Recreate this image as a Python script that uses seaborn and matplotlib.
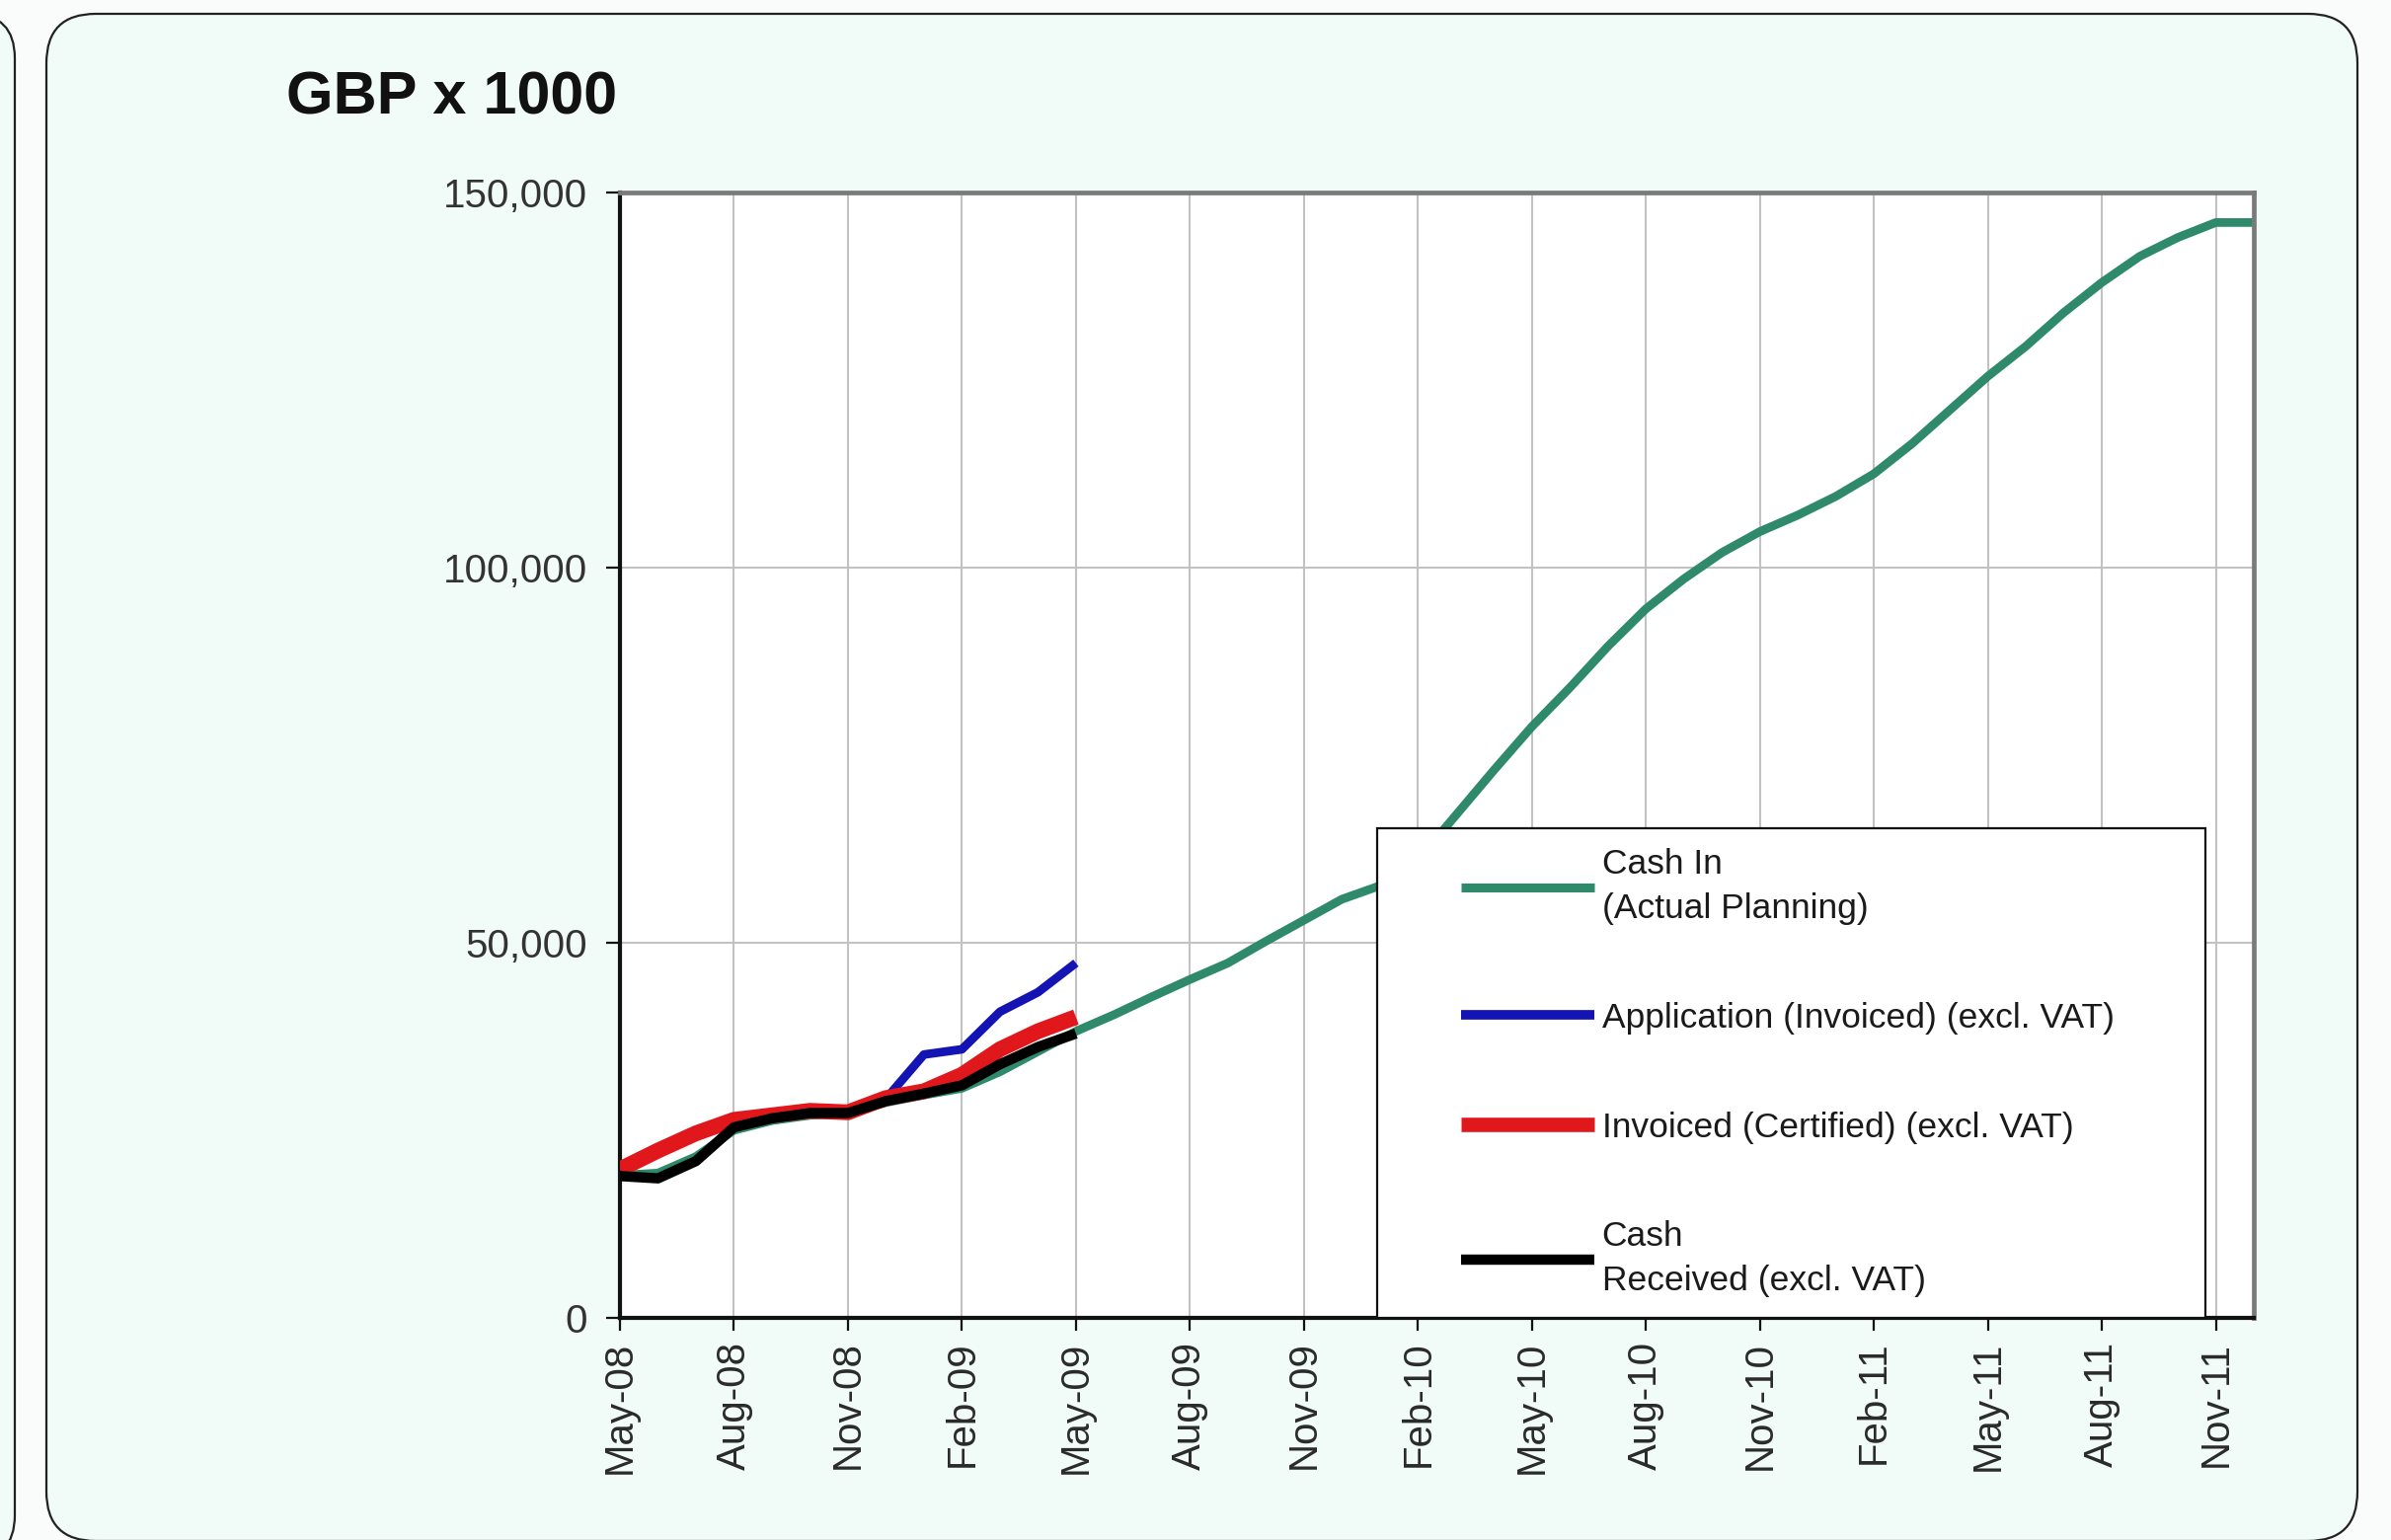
import numpy as np
import pandas as pd
import matplotlib
matplotlib.use("Agg")
import matplotlib.pyplot as plt
import seaborn as sns
from matplotlib.patches import FancyBboxPatch, Rectangle
from matplotlib.ticker import FuncFormatter

# ---------------- data (GBP x 1000) ----------------
months = ["May-08", "Jun-08", "Jul-08", "Aug-08", "Sep-08", "Oct-08", "Nov-08", "Dec-08",
          "Jan-09", "Feb-09", "Mar-09", "Apr-09", "May-09", "Jun-09", "Jul-09", "Aug-09",
          "Sep-09", "Oct-09", "Nov-09", "Dec-09", "Jan-10", "Feb-10", "Mar-10", "Apr-10",
          "May-10", "Jun-10", "Jul-10", "Aug-10", "Sep-10", "Oct-10", "Nov-10", "Dec-10",
          "Jan-11", "Feb-11", "Mar-11", "Apr-11", "May-11", "Jun-11", "Jul-11", "Aug-11",
          "Sep-11", "Oct-11", "Nov-11", "Dec-11"]

cash_in = [19000, 19300, 21500, 25000, 26300, 27000, 27300, 28700,
           29700, 30600, 32800, 35500, 38200, 40400, 42800, 45100,
           47300, 50200, 53000, 55800, 57600, 61000, 67000, 73000,
           78800, 84000, 89500, 94500, 98500, 102000, 104800, 107000,
           109500, 112500, 116500, 121000, 125500, 129500, 134000, 138000,
           141500, 144000, 146000, 146000]

application = [19800, 22500, 24700, 26400, 27000, 27600, 27400, 29200,
               35100, 35800, 40800, 43400, 47300]
invoiced = [19800, 22300, 24600, 26400, 27000, 27600, 27400, 29300,
            30200, 32400, 35800, 38200, 40100]
cash_received = [18900, 18600, 20900, 25400, 26600, 27300, 27300, 28900,
                 29900, 31000, 33800, 36100, 37900]

tick_labels = ["May-08", "Aug-08", "Nov-08", "Feb-09", "May-09", "Aug-09", "Nov-09",
               "Feb-10", "May-10", "Aug-10", "Nov-10", "Feb-11", "May-11", "Aug-11", "Nov-11"]
y_ticks = [0, 50000, 100000, 150000]

series_names = ["Cash In\n(Actual Planning)",
                "Application (Invoiced) (excl. VAT)",
                "Invoiced (Certified) (excl. VAT)",
                "Cash\nReceived (excl. VAT)"]
series_colors = ["#2f8a6c", "#1414b4", "#e0181c", "#000000"]
series_widths = [6.3, 6.3, 11.5, 7.5]
legend_widths = [6.5, 7.0, 10.5, 7.5]

# ---------------- style ----------------
sns.set_theme(style="white")
plt.rcParams['font.family'] = ['Liberation Sans', 'DejaVu Sans']

W, H = 24.22, 15.60
fig = plt.figure(figsize=(W, H), dpi=100, facecolor="#fafcfc")

# panel backgrounds (inches)
bg = "#f1fbf8"
fig.patches.append(FancyBboxPatch((-3.0, -0.2), 3.15, H + 0.06,
                                  boxstyle="round,pad=0,rounding_size=0.45",
                                  transform=fig.dpi_scale_trans, facecolor=bg,
                                  edgecolor="#222222", linewidth=1.6, zorder=-10))
fig.patches.append(FancyBboxPatch((0.47, -0.01), 23.41, H + 0.01 - 0.14,
                                  boxstyle="round,pad=0,rounding_size=0.5",
                                  transform=fig.dpi_scale_trans, facecolor=bg,
                                  edgecolor="#222222", linewidth=1.6, zorder=-10))

ax = fig.add_axes([628 / 2422, 1 - 1335 / 1560, (2283 - 628) / 2422, (1335 - 195) / 1560])
ax.set_zorder(1)
ax.set_facecolor("white")

all_series = [cash_in, application, invoiced, cash_received]
for i, (vals, name, col, lw) in enumerate(zip(all_series, series_names, series_colors, series_widths)):
    df = pd.DataFrame({"month": np.arange(len(vals)), "value": vals})
    sns.lineplot(data=df, x="month", y="value", ax=ax, color=col, linewidth=lw,
                 label=name, zorder=2 + i, solid_joinstyle="round", solid_capstyle="butt")

ax.set_xlim(0, len(months) - 1)
ax.set_ylim(y_ticks[0], y_ticks[-1])
ax.set_xticks(np.arange(0, len(months), 3))
ax.set_xticklabels(tick_labels)
ax.set_yticks(y_ticks)
ax.yaxis.set_major_formatter(FuncFormatter(lambda v, p: f"{int(v):,}"))
ax.set_xlabel("")
ax.set_ylabel("")

ax.set_axisbelow(True)
ax.grid(True, color="#c2c2c2", linewidth=1.5)

for s in ["top", "right"]:
    ax.spines[s].set_color("#7a7a7a")
    ax.spines[s].set_linewidth(3.4)
for s in ["left", "bottom"]:
    ax.spines[s].set_color("#111111")
    ax.spines[s].set_linewidth(3.0)

ax.tick_params(axis="x", bottom=True, direction="out", length=9, width=1.6, color="#111111",
               labelsize=29, labelcolor="#2a2a2a", pad=8, labelrotation=90)
ax.tick_params(axis="y", left=True, direction="out", length=10, width=1.6, color="#111111",
               labelsize=29, labelcolor="#333333", pad=14)

# legend box
ax.add_patch(Rectangle(((1395 - 628) / 1655, 0.0), (2234 - 1395) / 1655, (1335 - 839) / 1140,
                       transform=ax.transAxes, facecolor="white", edgecolor="#111111",
                       linewidth=1.6, zorder=6, clip_on=False))
leg = ax.legend(loc="upper left", bbox_to_anchor=(0.515, 0.4175), borderaxespad=0,
                borderpad=0, frameon=False, fontsize=25.5, handlelength=3.8,
                handletextpad=0.22, labelspacing=2.2)
leg.set_zorder(7)
for t in leg.get_texts():
    t.set_color("#1a1a1a")
    t.set_linespacing(1.45)
for h, lw in zip(leg.legend_handles, legend_widths):
    h.set_linewidth(lw)

fig.text(290 / 2422, 1 - 100 / 1560, "GBP x 1000", fontsize=44, fontweight="bold",
         ha="left", va="center", color="#111111")

fig.savefig("out.png", dpi=100, facecolor=fig.get_facecolor())
